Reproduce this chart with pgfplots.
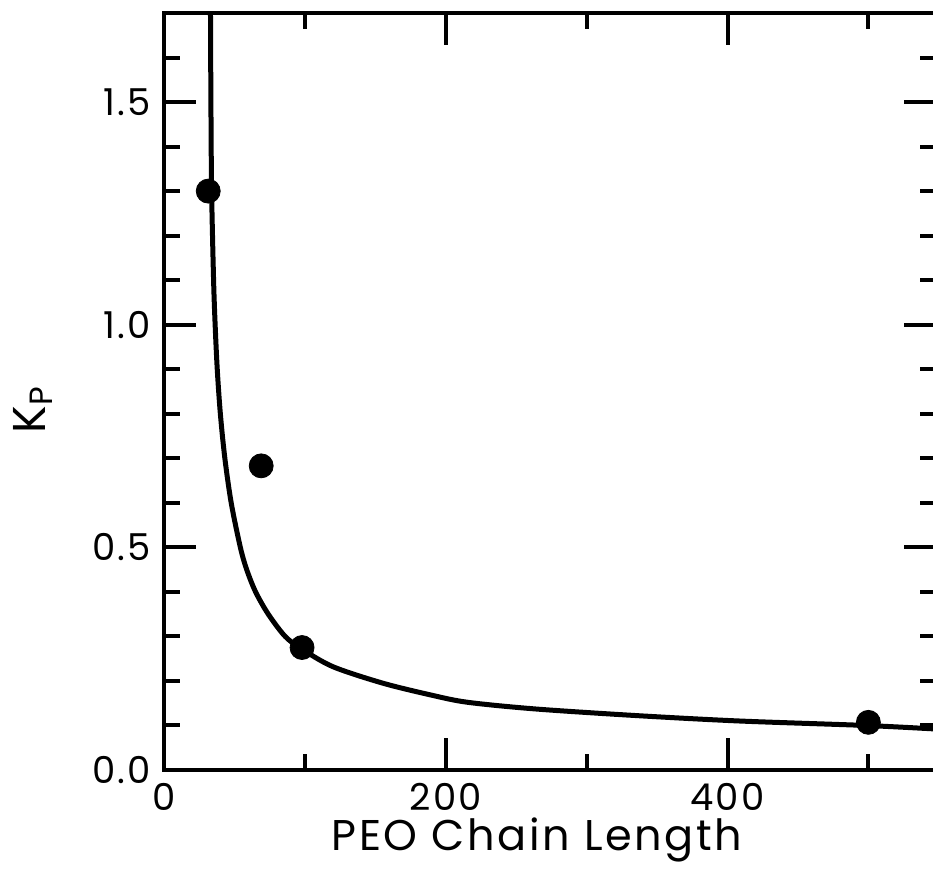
\documentclass[border=0pt]{standalone}
\usepackage{pgfplots}
\pgfplotsset{compat=1.18}
\usepackage{fontspec}
\setmainfont{Poppins}
\newfontfamily\lblfont[LetterSpace=6]{Poppins}
\begin{document}
\begin{tikzpicture}
\begin{axis}[
  scale only axis, width=386pt, height=378.5pt,
  xmin=0, xmax=548, ymin=0, ymax=1.7,
  axis line style={line width=2pt},
  every tick/.style={black, line width=2pt},
  major tick length=16pt, minor tick length=8pt,
  tick align=inside,
  xtick={0,200,400}, xticklabels={0,200,400},
  minor xtick={100,300,500},
  ytick={0,0.5,1.0,1.5}, yticklabels={0.0,0.5,1.0,1.5},
  minor ytick={0.1,0.2,0.3,0.4,0.6,0.7,0.8,0.9,1.1,1.2,1.3,1.4,1.6},
  xticklabel style={font=\lblfont\fontsize{18.5}{20}\selectfont, yshift=-3pt},
  yticklabel style={font=\lblfont\fontsize{18.5}{20}\selectfont, xshift=-3pt},
  xlabel={PEO Chain Length},
  ylabel={K\textsubscript{P}},
  xlabel style={font=\lblfont\fontsize{21.5}{23}\selectfont, at={(axis description cs:0.483,-0.106)}, anchor=base},
  ylabel style={font=\lblfont\fontsize{23}{25}\selectfont, at={(axis description cs:-0.135,0.476)}, anchor=south},
]
\addplot[black, line width=2.5pt, smooth, tension=0.5] coordinates {
(33.0,1.70) (33.3,1.50) (33.8,1.30) (35.2,1.10) (36.3,1.00) (37.8,0.90)
(40.0,0.80) (43.2,0.70) (47.7,0.60) (54.2,0.50) (58.7,0.45) (65.0,0.40)
(74.0,0.35) (86.0,0.30) (97.7,0.272)
(119.9,0.232) (155.3,0.195) (190,0.168) (215.6,0.152) (263.8,0.137)
(336.2,0.122) (408.5,0.110) (497.9,0.100) (548,0.092)
};
\addplot[only marks, mark=*, mark size=6pt, black] coordinates {
(31.4,1.30) (69,0.683) (98,0.275) (500,0.107)
};
\coordinate (sw) at (rel axis cs:0,0);
\coordinate (ne) at (rel axis cs:1,1);
\end{axis}
\pgfresetboundingbox
\path ([shift={(-82pt,-50pt)}]sw) rectangle ([shift={(-1.5pt,6.5pt)}]ne);
\end{tikzpicture}
\end{document}
